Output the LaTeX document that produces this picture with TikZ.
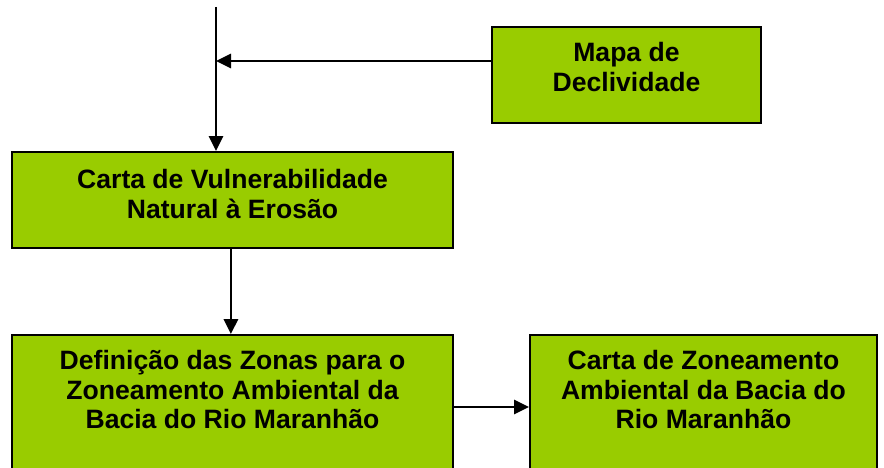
\documentclass[tikz,border=0pt]{standalone}
\usepackage{fontspec}
\setmainfont{Liberation Sans}
\usetikzlibrary{arrows.meta}
\usetikzlibrary{positioning}
\definecolor{mgreen}{RGB}{153, 204, 0}

\begin{document}
\begin{tikzpicture}[
    box/.style={draw, fill=mgreen, line width=1.4pt, minimum height=2.4cm},
    boxtext/.style={inner sep=0pt, align=center, anchor=north,
      font=\fontsize{18.9}{21}\selectfont\bfseries},
    arr/.style={line width=1.4pt, -{Triangle[length=0.375cm, width=0.36cm]}}
  ]
    \useasboundingbox (0, 0) rectangle (22.1, -11.7);

    \node [box, minimum width=6.725cm] (mapa) at (15.6625, -1.875) {};
    \node [box, minimum width=11.025cm] (vuln) at (5.8125, -5) {};
    \node [box, minimum width=11.025cm, minimum height=3.6cm] (def) at (5.8125, -10.175) {};
    \node [box, minimum width=8.675cm, minimum height=3.6cm] (zon) at (17.5875, -10.175) {};

    \node [boxtext, below=0.4cm of mapa.north] (mapatext) {Mapa de\\Declividade};
    \node [boxtext, below=0.45cm of vuln.north] (vulntext) {Carta de Vulnerabilidade\\Natural à Erosão};
    \node [boxtext, below=0.4cm of def.north] (deftext) {Definição das Zonas para o\\Zoneamento Ambiental da\\Bacia do Rio Maranhão};
    \node [boxtext, below=0.4cm of zon.north] (zontext) {Carta de Zoneamento\\Ambiental da Bacia do\\Rio Maranhão};

    \coordinate (start) at (5.4, -0.175);
    \draw [arr] (start) -- (start |- vuln.north);
    \draw [arr] ([yshift=0.35cm]mapa.west) -- ([yshift=0.35cm]mapa.west -| start);
    \draw [arr] ([xshift=-0.04cm]vuln.south) -- ([xshift=-0.04cm]def.north);
    \draw [arr] (def.east) -- (zon.west);
  \end{tikzpicture}
\end{document}
